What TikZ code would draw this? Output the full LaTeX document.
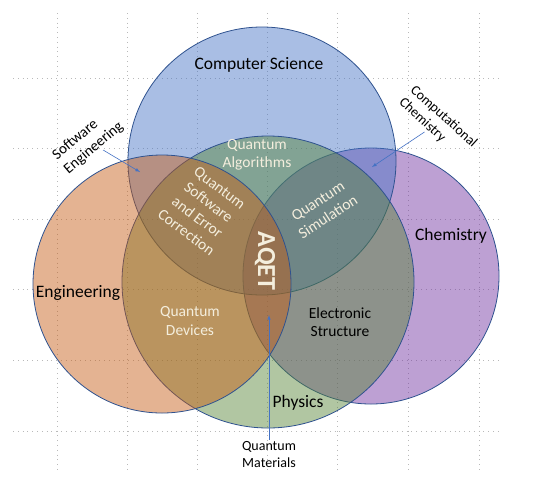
\documentclass[tikz,border=0pt]{standalone}
\usepackage{fontspec}
\setmainfont{Carlito}
\usepackage{tikz}
\usetikzlibrary{arrows,positioning}
\definecolor{csblue}{HTML}{4472C4}
\definecolor{engorange}{HTML}{C55A11}
\definecolor{chempurple}{HTML}{7030A0}
\definecolor{physgreen}{HTML}{548235}
\definecolor{rimblue}{HTML}{2F528F}
\definecolor{arrowblue}{HTML}{4472C4}
\definecolor{cream}{HTML}{F4EEDD}

\begin{document}
\begin{tikzpicture}[x=1pt,y=-1pt,>=latex,
    field/.style={circle,draw=rimblue,line width=0.8pt,fill opacity=0.46,inner sep=0pt},
    area/.style={font=\fontsize{17.5}{20}\selectfont,text=black},
    overlap/.style={font=\fontsize{15.5}{18.5}\selectfont,align=center,text=cream},
    remark/.style={font=\fontsize{14}{17}\selectfont,align=left,inner sep=1pt},
    pointer/.style={->,draw=arrowblue,line width=0.6pt},
    gridline/.style={gray!55,line width=0.5pt,dash pattern=on 0.8pt off 4pt}]

    \useasboundingbox (0,0) rectangle (548,488);

    % dotted grid behind everything
    \foreach \gx in {57,127,197,267,337,408,479}
      \draw[gridline] (\gx,13) -- (\gx,472);
    \foreach \gy in {78,148,219,289,360,431}
      \draw[gridline] (13,\gy) -- (498,\gy);

    % the four fields, back to front
    \node[field,minimum size=256pt,fill=chempurple] (chem) at (371,276) {};
    \node[field,minimum size=268pt,fill=csblue] (cs) at (262,161) {};
    \node[field,minimum size=292pt,fill=physgreen] (phys) at (268,282) {};
    \node[field,minimum size=258pt,fill=engorange] (eng) at (162,284) {};

    \node[area] (cslabel) at (259,65) {Computer Science};
    \node[area] (englabel) at (78,293) {Engineering};
    \node[area] (chemlabel) at (451,236) {Chemistry};
    \node[area] (physlabel) at (298,403) {Physics};

    \node[overlap] (algo) at (257,155) {Quantum\\Algorithms};
    \node[overlap,rotate=-37] (qsec) at (203,210) {Quantum\\Software\\and Error\\Correction};
    \node[overlap,rotate=33] (qsim) at (323,209) {Quantum\\Simulation};
    \node[overlap] (qdev) at (190,321) {Quantum\\Devices};
    \node[overlap,text=black] (estruct) at (340,322) {Electronic\\Structure};
    \node[font=\bfseries\fontsize{26}{30}\selectfont,text=cream,rotate=-90] (aqet) at (265,261) {AQET};

    \node[remark,rotate=40,font=\fontsize{15}{18}\selectfont] (swlabel) at (88,141) {Software\\Engineering};
    \node[remark,rotate=-42] (cclabel) at (438,123) {Computational\\Chemistry};
    \node[remark,align=center] (qmlabel) at (269,454) {Quantum\\Materials};

    \coordinate (setip) at (140,172);
    \coordinate (cctip) at (372,167);
    \coordinate (qmtip) at (269,315);
    \draw[pointer] (swlabel) -- (setip);
    \draw[pointer] (cclabel) -- (cctip);
    \draw[pointer] (qmlabel) -- (qmtip);
\end{tikzpicture}
\end{document}
